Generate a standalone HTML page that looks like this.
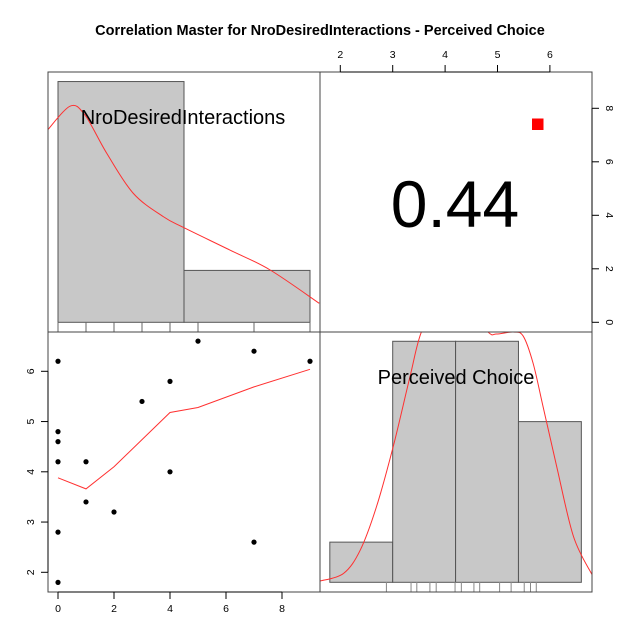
<!DOCTYPE html>
<html><head><meta charset="utf-8"><style>
html,body{margin:0;padding:0;background:#fff}
svg{display:block;font-family:"Liberation Sans",Arial,sans-serif}
</style></head><body>
<svg id="c" width="640" height="640" viewBox="0 0 640 640">
<text x="320" y="35" text-anchor="middle" font-size="14.5" font-weight="bold">Correlation Master for NroDesiredInteractions - Perceived Choice</text>
<g id="g"></g>
</svg>
<script>
// Data
const scatterX = [0,0,0,0,0,0,1,1,2,3,4,4,5,7,7,9];
const scatterY = [6.2,4.8,4.6,4.2,2.8,1.8,4.2,3.4,3.2,5.4,5.8,4.0,6.6,6.4,2.6,6.2];
const loessX = [0,1,2,4,5,7,9];
const loessY = [3.88,3.66,4.10,5.18,5.28,5.69,6.04];
const hist1Breaks = [0,4.5,9];
const hist1Heights = [9,1.94];
const dens1X = [-0.37,0.43,0.96,1.74,2.69,3.76,4.49,6.14,7.57,9.33];
const dens1Y = [7.19,8.08,7.75,6.32,4.82,3.95,3.54,2.70,1.96,0.71];
const hist2Breaks = [1.8,3.0,4.2,5.4,6.6];
const hist2Heights = [1,6,6,4];
const dens2X = [1.61,2.06,2.38,2.69,3.01,3.33,3.55,3.90,4.38,4.82,4.98,5.30,5.49,5.68,5.87,6.13,6.45,6.80];
const dens2Y = [0.03,0.22,0.80,1.88,3.38,5.12,6.24,7.0,6.9,6.23,6.18,6.23,6.13,5.45,4.37,2.88,1.14,0.20];
const rug2 = [2.88,3.35,3.46,3.71,3.83,4.19,4.31,4.55,4.66,5.04,5.26,5.51,5.63,5.74];
const xTicks1 = [0,2,4,6,8];
const yTicks1 = [2,3,4,5,6];
const xTicks2 = [2,3,4,5,6];
const yTicks2 = [0,2,4,6,8];
const corrLabel = "0.44";

const NS="http://www.w3.org/2000/svg";
const g=document.getElementById('g');
function mk(t,a,p){const e=document.createElementNS(NS,t);for(const k in a)e.setAttribute(k,a[k]);(p||g).appendChild(e);return e;}
function smooth(pts){let d='M'+pts[0][0]+','+pts[0][1];
  for(let i=0;i<pts.length-1;i++){const p0=pts[i-1]||pts[i],p1=pts[i],p2=pts[i+1],p3=pts[i+2]||p2;
    const c1=[p1[0]+(p2[0]-p0[0])/6,p1[1]+(p2[1]-p0[1])/6],c2=[p2[0]-(p3[0]-p1[0])/6,p2[1]-(p3[1]-p1[1])/6];
    d+=` C${c1[0]},${c1[1]} ${c2[0]},${c2[1]} ${p2[0]},${p2[1]}`;}return d;}
// Axis functions
const x1=v=>58+v*28;
const y1=v=>572.3-(v-2)*50.25;
const x2=v=>340.3+(v-2)*52.4;
const yh1=v=>322.3-v*26.75;
const yh2=v=>582.3-v*40.17;

const defs=mk('defs',{});
const cp1=mk('clipPath',{id:'c1'},defs);mk('rect',{x:48,y:72,width:272,height:260},cp1);
const cp2=mk('clipPath',{id:'c2'},defs);mk('rect',{x:320,y:332,width:272,height:260},cp2);

for(let i=0;i<hist1Heights.length;i++){
  const r=mk('rect',{x:x1(hist1Breaks[i]),y:yh1(hist1Heights[i]),width:x1(hist1Breaks[i+1])-x1(hist1Breaks[i]),height:yh1(0)-yh1(hist1Heights[i]),fill:'#c8c8c8',stroke:'#555','stroke-width':1});
  
  
}
const d1=mk('path',{d:smooth(dens1X.map((v,i)=>[x1(v),yh1(dens1Y[i])])),fill:'none',stroke:'#ff3030','stroke-width':1,'clip-path':'url(#c1)'});


[...new Set(scatterX)].forEach(v=>{mk('line',{x1:x1(v),x2:x1(v),y1:322,y2:332,stroke:'#666','stroke-width':1});});
const t1=mk('text',{x:183,y:124,'text-anchor':'middle','font-size':20});t1.textContent='NroDesiredInteractions';



for(let i=0;i<hist2Heights.length;i++){
  const r=mk('rect',{x:x2(hist2Breaks[i]),y:yh2(hist2Heights[i]),width:x2(hist2Breaks[i+1])-x2(hist2Breaks[i]),height:yh2(0)-yh2(hist2Heights[i]),fill:'#c8c8c8',stroke:'#555','stroke-width':1});
  
  
}
const d2=mk('path',{d:smooth(dens2X.map((v,i)=>[x2(v),yh2(dens2Y[i])])),fill:'none',stroke:'#ff3030','stroke-width':1,'clip-path':'url(#c2)'});


rug2.forEach(v=>{mk('line',{x1:x2(v),x2:x2(v),y1:582,y2:592,stroke:'#888','stroke-width':1});});
const t2=mk('text',{x:456,y:384,'text-anchor':'middle','font-size':20});t2.textContent='Perceived Choice';



scatterX.forEach((v,i)=>{const c=mk('circle',{cx:x1(v),cy:y1(scatterY[i]),r:2.6,fill:'#000'});
  
  });
const lo=mk('polyline',{points:loessX.map((v,i)=>x1(v)+','+y1(loessY[i])).join(' '),fill:'none',stroke:'#ff3030','stroke-width':1});



const ct=mk('text',{x:455,y:227,'text-anchor':'middle','font-size':66});ct.textContent=corrLabel;


const sq=mk('rect',{x:532,y:118.5,width:11.5,height:11.5,fill:'#ff0000'});



[[48,72],[320,72],[48,332],[320,332]].forEach(p=>{mk('rect',{x:p[0],y:p[1],width:272,height:260,fill:'none',stroke:'#444','stroke-width':1});});

mk('line',{x1:x1(0),x2:x1(8),y1:592,y2:592,stroke:'#000'});
xTicks1.forEach(v=>{mk('line',{x1:x1(v),x2:x1(v),y1:592,y2:599,stroke:'#000'});const t=mk('text',{x:x1(v),y:612,'text-anchor':'middle','font-size':10.5});t.textContent=v;
  
  });
mk('line',{x1:48,x2:48,y1:y1(2),y2:y1(6),stroke:'#000'});
yTicks1.forEach(v=>{mk('line',{x1:41,x2:48,y1:y1(v),y2:y1(v),stroke:'#000'});const t=mk('text',{x:34,y:y1(v),'text-anchor':'middle','font-size':10.5,transform:`rotate(-90 34 ${y1(v)})`});t.textContent=v;
  
  });
mk('line',{x1:x2(2),x2:x2(6),y1:72,y2:72,stroke:'#000'});
xTicks2.forEach(v=>{mk('line',{x1:x2(v),x2:x2(v),y1:65,y2:72,stroke:'#000'});const t=mk('text',{x:x2(v),y:58,'text-anchor':'middle','font-size':10.5});t.textContent=v;
  
  });
mk('line',{x1:592,x2:592,y1:yh1(0),y2:yh1(8),stroke:'#000'});
yTicks2.forEach(v=>{mk('line',{x1:592,x2:599,y1:yh1(v),y2:yh1(v),stroke:'#000'});const t=mk('text',{x:606,y:yh1(v),'text-anchor':'middle','font-size':10.5,transform:`rotate(90 606 ${yh1(v)})`});t.textContent=v;
  
  });
</script>
</body></html>
